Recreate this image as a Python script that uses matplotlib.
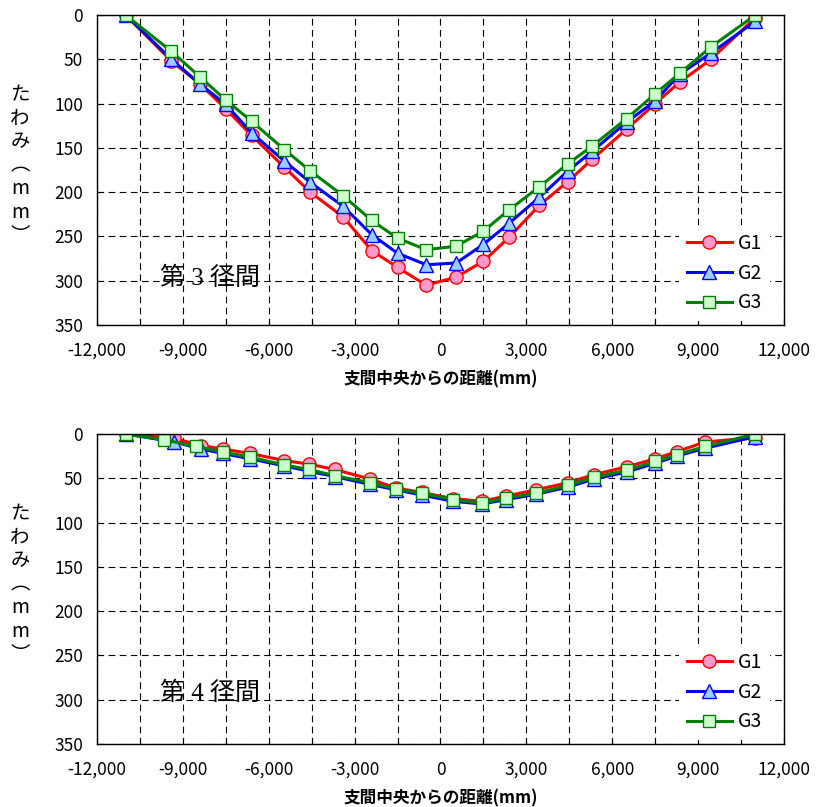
import matplotlib
matplotlib.use('Agg')
import matplotlib.pyplot as plt
from matplotlib.ticker import MultipleLocator, FuncFormatter

plt.rcParams['font.family'] = ['Noto Sans CJK JP', 'DejaVu Sans']

# 第3径間
x3 = [-11000, -9400, -8400, -7500, -6600, -5450, -4550, -3400, -2400, -1500, -500,
      550, 1500, 2400, 3450, 4450, 5300, 6500, 7500, 8350, 9450, 11000]
g1_3 = [0, 52, 78, 106, 136, 172, 200, 228, 266, 285, 305,
        296, 278, 251, 215, 188, 163, 129, 100, 76, 50, 3]
g2_3 = [0, 50, 78, 101, 133, 165, 189, 216, 248, 269, 282,
        280, 259, 235, 206, 176, 154, 121, 97, 67, 43, 7]
g3_3 = [0, 41, 70, 96, 120, 152, 176, 204, 232, 252, 265,
        261, 244, 220, 194, 168, 148, 117, 89, 66, 36, 0]

# 第4径間
x4_g12 = [-11000, -9300, -8350, -7600, -6650, -5450, -4600, -3700, -2450, -1550, -650,
          450, 1450, 2300, 3350, 4450, 5350, 6500, 7500, 8250, 9250, 11000]
x4_g3 = [-11000, -9650, -8550, -7600, -6650, -5450, -4600, -3700, -2450, -1550, -650,
         450, 1450, 2300, 3350, 4450, 5350, 6500, 7500, 8250, 9250, 11000]
g1_4 = [0, 5, 13, 17, 22, 30, 34, 40, 51, 61, 66,
        73, 76, 70, 63, 55, 46, 37, 28, 20, 9, 4]
g2_4 = [0, 9, 17, 22, 28, 36, 42, 48, 57, 63, 69,
        76, 79, 74, 68, 60, 51, 43, 33, 25, 16, 3]
g3_4 = [0, 6.5, 14, 20.5, 26, 35, 40, 47, 55, 62, 67,
        74, 78, 72, 67, 58, 49, 41, 31, 23.5, 14, 0]

labels = ['G1', 'G2', 'G3']
styles = [
    dict(color='#FF0000', marker='o', markerfacecolor='#FF99CC', markeredgecolor='#FF0000', markersize=9.5),
    dict(color='#0000FF', marker='^', markerfacecolor='#99CCFF', markeredgecolor='#0000FF', markersize=10.5),
    dict(color='#008000', marker='s', markerfacecolor='#CCFFCC', markeredgecolor='#008000', markersize=9),
]

fig = plt.figure(figsize=(8.17, 8.07), dpi=100)
ax_top = fig.add_axes([0.1187, 0.5973, 0.8409, 0.3841])
ax_bot = fig.add_axes([0.1187, 0.0781, 0.8409, 0.3841])


def fmt(v, pos):
    return '{:,.0f}'.format(v)


def setup(ax, title, text_y, lab_y):
    ax.set_xlim(-12000, 12000)
    ax.set_ylim(350, 0)
    ax.xaxis.set_major_locator(MultipleLocator(3000))
    ax.xaxis.set_minor_locator(MultipleLocator(1500))
    ax.xaxis.set_major_formatter(FuncFormatter(fmt))
    ax.yaxis.set_major_locator(MultipleLocator(50))
    ax.grid(True, which='both', color='black', linestyle=(0, (6, 4)), linewidth=0.8)
    ax.tick_params(axis='both', which='both', direction='in', length=4, labelsize=12.5, width=0.8)
    ax.tick_params(axis='x', pad=12)
    ax.tick_params(axis='y', pad=10)
    for s in ax.spines.values():
        s.set_linewidth(1.0)
        s.set_color('black')
    ax.set_xlabel('支間中央からの距離(mm)', fontsize=12, fontweight='bold', labelpad=8)
    ax.text(-0.112, lab_y, 'た\nわ\nみ\n︵\nm\nm\n︶', transform=ax.transAxes,
            fontsize=14, ha='center', va='center', linespacing=1.15)
    ax.text(0.092, text_y, title, transform=ax.transAxes, fontsize=18,
            family=['Liberation Serif', 'Noto Sans CJK JP'], ha='left', va='center')
    ax.legend(loc='lower right', bbox_to_anchor=(0.985, 0.0), fontsize=14, handlelength=2.3,
              labelspacing=0.45, fancybox=False, framealpha=1.0, edgecolor='none',
              borderaxespad=0.2, handletextpad=0.3)


for ys, st, lb in zip([g1_3, g2_3, g3_3], styles, labels):
    ax_top.plot(x3, ys, linewidth=2.2, label=lb, **st)

for xs, ys, st, lb in zip([x4_g12, x4_g12, x4_g3], [g1_4, g2_4, g3_4], styles, labels):
    ax_bot.plot(xs, ys, linewidth=2.2, label=lb, **st)

setup(ax_top, '第 3 径間', 0.15, 0.515)
setup(ax_bot, '第 4 径間', 0.165, 0.515)

fig.savefig('out.png', dpi=100)
